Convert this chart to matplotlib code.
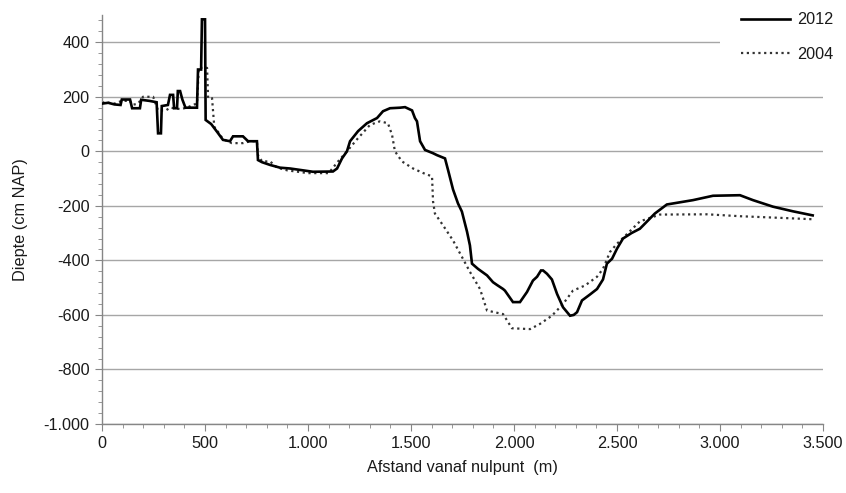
import matplotlib
matplotlib.use("Agg")
import matplotlib.pyplot as plt
from matplotlib.ticker import MultipleLocator, FuncFormatter
from matplotlib.patches import Rectangle

plt.rcParams['font.family'] = ['Liberation Sans', 'DejaVu Sans']

# Bottom profile 2012: distance (m) and depth (cm NAP)
x_2012 = [0, 30, 60, 90, 96, 136, 146, 184, 190, 230, 265, 272, 286, 290, 320, 330, 345,
          350, 364, 368, 379, 390, 405, 461, 466, 481, 485, 500, 503, 530, 560, 587, 621,
          636, 684, 709, 752, 757, 777, 816, 864, 913, 1024, 1121, 1141, 1165, 1189, 1204,
          1243, 1286, 1335, 1364, 1398, 1447, 1471, 1505, 1519, 1529, 1544, 1568, 1607,
          1626, 1665, 1680, 1704, 1728, 1747, 1772, 1786, 1796, 1825, 1869, 1898, 1917,
          1947, 1956, 1995, 2029, 2063, 2092, 2112, 2131, 2141, 2160, 2184, 2209, 2238,
          2272, 2290, 2306, 2330, 2369, 2403, 2432, 2451, 2476, 2500, 2529, 2570, 2611,
          2684, 2742, 2869, 2966, 3097, 3160, 3257, 3354, 3450]
y_2012 = [175, 178, 172, 170, 190, 190, 158, 158, 189, 185, 180, 66, 66, 166, 170, 207, 207,
          158, 158, 221, 221, 190, 160, 160, 300, 300, 484, 484, 115, 100, 70, 42, 37,
          55, 55, 37, 37, -32, -40, -50, -60, -63, -75, -74, -63, -26, 0, 37,
          74, 103, 122, 147, 158, 160, 162, 150, 122, 110, 37, 5, -7,
          -14, -26, -69, -140, -191, -221, -295, -345, -412, -431, -455, -480, -490,
          -505, -511, -553, -553, -516, -474, -460, -437, -437, -449, -470, -523, -572,
          -603, -600, -590, -547, -525, -505, -470, -412, -394, -357, -320, -300, -284,
          -228, -195, -179, -163, -161, -179, -203, -220, -235]

# Bottom profile 2004
x_2004 = [0, 30, 60, 96, 136, 146, 175, 199, 248, 272, 310, 330, 379, 413, 440, 461, 470,
          510, 515, 534, 545, 560, 587, 630, 684, 720, 752, 757, 777, 816, 850, 900, 1000,
          1100, 1146, 1189, 1238, 1301, 1349, 1388, 1408, 1422, 1456, 1510, 1560, 1602,
          1607, 1616, 1655, 1704, 1747, 1786, 1835, 1869, 1947, 1990, 2078, 2126, 2184,
          2238, 2286, 2345, 2403, 2432, 2466, 2500, 2560, 2611, 2708, 2937, 3097, 3291, 3446]
y_2004 = [180, 178, 175, 185, 185, 170, 175, 200, 200, 150, 150, 160, 155, 160, 170, 175, 306,
          306, 195, 195, 90, 75, 45, 30, 30, 37, 37, -14, -37, -37, -60, -70, -80,
          -80, -37, 0, 44, 97, 110, 103, 60, 0, -37, -63, -80, -92,
          -184, -228, -271, -327, -387, -442, -505, -584, -597, -649, -652, -633, -603,
          -560, -511, -492, -460, -431, -369, -339, -295, -257, -232, -231, -238, -244, -249]

labels = ["2012", "2004"]

fig = plt.figure(figsize=(8.46, 4.93), dpi=100)
ax = fig.add_axes([0.1206, 0.140, 0.8522, 0.8296])

grid_c = "#a6a6a6"
axis_c = "#868686"
text_c = "#1a1a1a"
fs = 11.7

ax.set_xlim(0, 3500)
ax.set_ylim(-1000, 500)
ax.xaxis.set_major_locator(MultipleLocator(500))
ax.xaxis.set_minor_locator(MultipleLocator(100))
ax.yaxis.set_major_locator(MultipleLocator(200))
ax.yaxis.set_minor_locator(MultipleLocator(40))

fmt = FuncFormatter(lambda v, p: f"{int(round(v)):,}".replace(",", "."))
ax.xaxis.set_major_formatter(fmt)
ax.yaxis.set_major_formatter(fmt)

ax.set_axisbelow(True)
ax.grid(axis='y', which='major', color=grid_c, linewidth=1.0)
for s in ['top', 'right']:
    ax.spines[s].set_visible(False)
for s in ['left', 'bottom']:
    ax.spines[s].set_color(axis_c)
    ax.spines[s].set_linewidth(1.0)

ax.tick_params(which='major', length=5, color=axis_c, labelsize=fs, labelcolor=text_c, pad=4)
ax.tick_params(which='minor', length=3, color=axis_c)

# white panel behind the legend
ax.add_patch(Rectangle((720 / 846, 1 - 75 / 493), 126 / 846, 75 / 493,
                       transform=fig.transFigure, facecolor='white', edgecolor='none',
                       zorder=1.2, clip_on=False))

l1, = ax.plot(x_2012, y_2012, color='black', linewidth=1.9, zorder=3,
              solid_joinstyle='miter', label=labels[0])
l2, = ax.plot(x_2004, y_2004, color='#333333', linewidth=1.6, zorder=2,
              linestyle=(0, (1, 1.6)), label=labels[1])

leg = fig.legend(handles=[l1, l2], loc='upper right', bbox_to_anchor=(0.998, 0.998),
                 frameon=False, fontsize=fs, handlelength=3.0, labelspacing=1.2,
                 handletextpad=0.4, borderaxespad=0.3)
for t in leg.get_texts():
    t.set_color(text_c)

ax.set_ylabel("Diepte (cm NAP)", fontsize=fs, color=text_c, labelpad=11)
ax.set_xlabel("Afstand vanaf nulpunt  (m)", fontsize=fs, color=text_c, labelpad=6)

fig.savefig("out.png", dpi=100)
